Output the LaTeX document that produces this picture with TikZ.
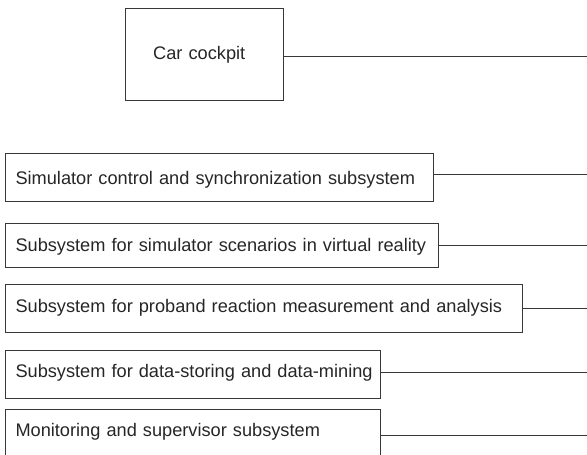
\documentclass[tikz,border=0pt]{standalone}
\usepackage{fontspec}
\setmainfont{Liberation Sans}
\begin{document}
\begin{tikzpicture}[x=1pt,y=1pt,
  line/.style={draw=black!78,line width=1pt},
  box/.style={line,anchor=north west,inner sep=0pt,text depth=0pt,align=left,
    font=\fontsize{18.2}{20}\selectfont,text=black!85}]
\useasboundingbox (0,0) rectangle (587,-455);
\node[box,minimum width=158.3pt,minimum height=91.7pt,text width=158.3pt,text height=10.3pt] (cp) at (125,-8.3) {\hspace*{27.7pt}Car cockpit};
\node[box,minimum width=428.3pt,minimum height=48.3pt,text width=428.3pt,text height=14pt] (s1) at (5,-152.7) {\hspace*{10pt}Simulator control and synchronization subsystem};
\node[box,minimum width=433.3pt,minimum height=43.4pt,text width=433.3pt,text height=12pt] (s2) at (5,-223.3) {\hspace*{10pt}Subsystem for simulator scenarios in virtual reality};
\node[box,minimum width=516.7pt,minimum height=48.3pt,text width=516.7pt,text height=7.4pt] (s3) at (5,-284) {\hspace*{10pt}Subsystem for proband reaction measurement and analysis};
\node[box,minimum width=375pt,minimum height=48.3pt,text width=375pt,text height=6pt] (s4) at (5,-350) {\hspace*{10pt}Subsystem for data-storing and data-mining};
\node[box,minimum width=375pt,minimum height=48.3pt,text width=375pt,text height=6pt] (s5) at (5,-409.3) {\hspace*{10pt}Monitoring and supervisor subsystem};
\coordinate (e0) at (587,-56.7);
\coordinate (e1) at (587,-174.3);
\coordinate (e2) at (587,-245);
\coordinate (e3) at (587,-308.3);
\coordinate (e4) at (587,-372.3);
\coordinate (e5) at (587,-435);
\draw[line] (cp.east |- e0) -- (e0);
\draw[line] (s1.east |- e1) -- (e1);
\draw[line] (s2.east |- e2) -- (e2);
\draw[line] (s3.east |- e3) -- (e3);
\draw[line] (s4.east |- e4) -- (e4);
\draw[line] (s5.east |- e5) -- (e5);
\end{tikzpicture}
\end{document}
